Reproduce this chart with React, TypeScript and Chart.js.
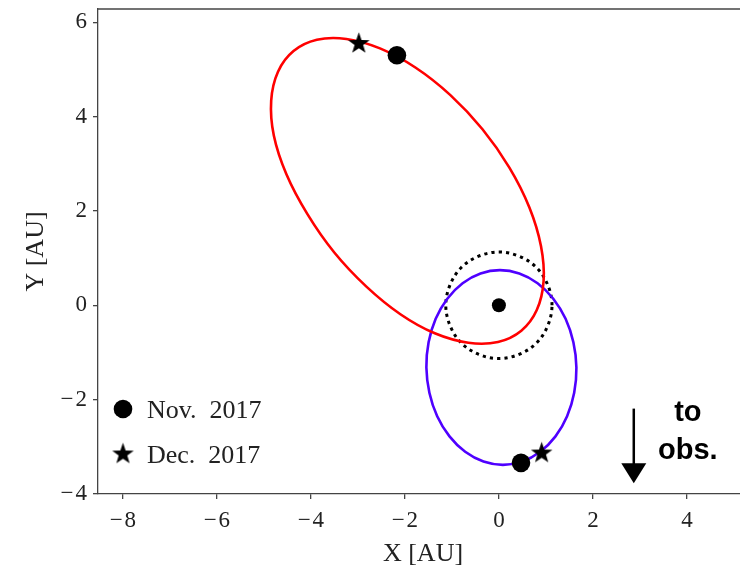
import React, { useEffect, useRef } from 'react';
import { Chart, registerables } from 'chart.js';
Chart.register(...registerables);

// ---- data (AU) ----
const redOrbitX = [0.477, 0.806, 0.951, 0.896, 0.649, 0.223, -0.349, -1.032, -1.777, -2.530, -3.245, -3.874, -4.370, -4.700, -4.845, -4.789, -4.521, -4.074, -3.502, -2.819, -2.096, -1.364, -0.649, -0.019];
const redOrbitY = [-0.538, -0.100, 0.513, 1.253, 2.074, 2.919, 3.732, 4.455, 5.040, 5.445, 5.645, 5.628, 5.389, 4.951, 4.338, 3.598, 2.777, 1.932, 1.119, 0.396, -0.189, -0.594, -0.794, -0.777];

const blueOrbitX = [1.649, 1.602, 1.451, 1.204, 0.879, 0.498, 0.085, -0.328, -0.717, -1.051, -1.313, -1.479, -1.543, -1.496, -1.345, -1.098, -0.772, -0.391, 0.021, 0.434, 0.823, 1.157, 1.419, 1.585];
const blueOrbitY = [-1.319, -1.853, -2.351, -2.779, -3.106, -3.313, -3.383, -3.313, -3.106, -2.779, -2.351, -1.853, -1.319, -0.785, -0.287, 0.140, 0.468, 0.674, 0.745, 0.674, 0.468, 0.140, -0.287, -0.785];

const earthOrbitX = [1.13, 1.04, 0.80, 0.43, 0, -0.43, -0.80, -1.04, -1.13, -1.04, -0.80, -0.43, 0, 0.43, 0.80, 1.04];
const earthOrbitY = [0, 0.43, 0.80, 1.04, 1.13, 1.04, 0.80, 0.43, 0, -0.43, -0.80, -1.04, -1.13, -1.04, -0.80, -0.43];

const novX = [-2.17, 0.47];
const novY = [5.30, -3.34];
const decX = [-2.98, 0.91];
const decY = [5.57, -3.11];
const sunX = [0];
const sunY = [0];

const xTicks = [-8, -6, -4, -2, 0, 2, 4];
const yTicks = [-4, -2, 0, 2, 4, 6];
const xMin = -8.53;
const xMax = 5.13;
const yMin = -4;
const yMax = 6.28;

const xTitle = 'X [AU]';
const yTitle = 'Y [AU]';
const legendLabels = ['Nov.  2017', 'Dec.  2017'];
const arrowX = [2.87, 2.87];
const arrowY = [-2.19, -3.77];
const obsLines = ['to', 'obs.'];
const obsX = 4.02;
const obsY = [-2.28, -3.09];

const SERIF = '"Liberation Serif", "DejaVu Serif", serif';
const SANS = '"Liberation Sans", Arial, sans-serif';

function pts(xs: number[], ys: number[]) {
  return xs.map((x, i) => ({ x, y: ys[i] }));
}
// closed curve: extra neighbour at both ends, whose segments are hidden
function closedLoop(xs: number[], ys: number[]) {
  const p = pts(xs, ys);
  return [p[p.length - 1], ...p, p[0], p[1]];
}
function loopSegment(n: number) {
  return {
    borderColor: (ctx: any) => (ctx.p0DataIndex === 0 || ctx.p1DataIndex === n + 2 ? 'rgba(0,0,0,0)' : undefined),
  };
}
function fmt(v: number) {
  return v < 0 ? '\u2212\u200A' + Math.abs(v) : String(v);
}

function makeStar(R: number) {
  const size = Math.ceil(R * 2 + 4);
  const c = document.createElement('canvas');
  c.width = size;
  c.height = size;
  const g = c.getContext('2d')!;
  const cx = size / 2;
  const cy = size / 2 + R * 0.1;
  const r = R * 0.4;
  g.fillStyle = '#000';
  g.beginPath();
  for (let k = 0; k < 10; k++) {
    const rr = k % 2 === 0 ? R : r;
    const a = -Math.PI / 2 + (k * Math.PI) / 5;
    const px = cx + rr * Math.cos(a);
    const py = cy + rr * Math.sin(a);
    if (k === 0) g.moveTo(px, py);
    else g.lineTo(px, py);
  }
  g.closePath();
  g.fill();
  return c;
}

export default function App() {
  const ref = useRef<HTMLCanvasElement>(null);
  useEffect(() => {
    const star = makeStar(11.3);
    const overlay = {
      id: 'overlay',
      afterDraw(chart: any) {
        const ctx = chart.ctx;
        const { left, right, top, bottom } = chart.chartArea;
        const xs = chart.scales.x;
        const ys = chart.scales.y;
        ctx.save();
        // top spine
        ctx.strokeStyle = '#444';
        ctx.lineWidth = 1.3;
        ctx.beginPath();
        ctx.moveTo(left - 0.6, top);
        ctx.lineTo(right, top);
        ctx.stroke();
        // axis titles
        ctx.fillStyle = '#222';
        ctx.font = `26px ${SERIF}`;
        ctx.textAlign = 'center';
        ctx.textBaseline = 'alphabetic';
        ctx.fillText(xTitle, (left + right) / 2 + 4, 561);
        ctx.save();
        ctx.translate(43, (top + bottom) / 2);
        ctx.rotate(-Math.PI / 2);
        ctx.fillText(yTitle, 0, 0);
        ctx.restore();
        // legend
        const lx = left + 25;
        ctx.fillStyle = '#000';
        ctx.beginPath();
        ctx.arc(lx, bottom - 85, 9.3, 0, Math.PI * 2);
        ctx.fill();
        ctx.drawImage(star, lx - star.width / 2, bottom - 41 - star.height / 2);
        ctx.fillStyle = '#222';
        ctx.textAlign = 'left';
        ctx.font = `26px ${SERIF}`;
        ctx.fillText(legendLabels[0], left + 49, bottom - 76);
        ctx.fillText(legendLabels[1], left + 49, bottom - 31);
        // arrow
        const ax = xs.getPixelForValue(arrowX[0]);
        const ay0 = ys.getPixelForValue(arrowY[0]);
        const ay1 = ys.getPixelForValue(arrowY[1]);
        ctx.strokeStyle = '#000';
        ctx.fillStyle = '#000';
        ctx.lineWidth = 2.5;
        ctx.beginPath();
        ctx.moveTo(ax, ay0);
        ctx.lineTo(ax, ay1 - 18);
        ctx.stroke();
        ctx.beginPath();
        ctx.moveTo(ax - 12.5, ay1 - 20);
        ctx.lineTo(ax + 12.5, ay1 - 20);
        ctx.lineTo(ax, ay1);
        ctx.closePath();
        ctx.fill();
        // label
        ctx.font = `bold 29px ${SANS}`;
        ctx.textAlign = 'center';
        ctx.textBaseline = 'middle';
        const ox = xs.getPixelForValue(obsX);
        obsLines.forEach((t, i) => ctx.fillText(t, ox, ys.getPixelForValue(obsY[i])));
        ctx.restore();
      },
    };

    const chart = new Chart(ref.current!, {
      type: 'scatter',
      data: {
        datasets: [
          {
            label: 'sun',
            data: pts(sunX, sunY),
            pointRadius: 7,
            pointBackgroundColor: '#000',
            pointBorderWidth: 0,
            order: 0,
          },
          {
            label: 'nov',
            data: pts(novX, novY),
            pointRadius: 9.3,
            pointBackgroundColor: '#000',
            pointBorderWidth: 0,
            order: 0,
          },
          {
            label: 'dec',
            data: pts(decX, decY),
            pointStyle: star as any,
            pointRadius: 10,
            order: 0,
          },
          {
            label: 'red',
            data: closedLoop(redOrbitX, redOrbitY),
            showLine: true,
            borderColor: '#ff0000',
            borderWidth: 2.6,
            pointRadius: 0,
            tension: 0.36,
            segment: loopSegment(redOrbitX.length),
            order: 2,
          },
          {
            label: 'blue',
            data: closedLoop(blueOrbitX, blueOrbitY),
            showLine: true,
            borderColor: '#4f00ff',
            borderWidth: 2.6,
            pointRadius: 0,
            tension: 0.36,
            segment: loopSegment(blueOrbitX.length),
            order: 2,
          },
          {
            label: 'earth',
            data: closedLoop(earthOrbitX, earthOrbitY),
            showLine: true,
            borderColor: '#000',
            borderWidth: 3,
            borderDash: [3.2, 4.1],
            pointRadius: 0,
            tension: 0.35,
            segment: loopSegment(earthOrbitX.length),
            order: 3,
          },
        ],
      },
      options: {
        animation: false,
        responsive: true,
        maintainAspectRatio: false,
        layout: { autoPadding: false, padding: { top: 9, right: 0, left: 0, bottom: 0 } },
        plugins: { legend: { display: false }, tooltip: { enabled: false } },
        events: [],
        scales: {
          x: {
            type: 'linear',
            min: xMin,
            max: xMax,
            afterBuildTicks: (s: any) => {
              s.ticks = xTicks.map((v) => ({ value: v }));
            },
            afterFit: (s: any) => {
              s.height = 73;
              s.paddingLeft = 0;
              s.paddingRight = 0;
            },
            ticks: {
              callback: (v: any) => fmt(Number(v)),
              font: { family: SERIF, size: 23 },
              color: '#222',
              padding: 8,
              maxRotation: 0,
            },
            grid: { drawOnChartArea: false, drawTicks: true, tickLength: 5, color: '#444', lineWidth: 1.3 },
            border: { display: true, color: '#444', width: 1.3 },
          },
          y: {
            type: 'linear',
            min: yMin,
            max: yMax,
            afterBuildTicks: (s: any) => {
              s.ticks = yTicks.map((v) => ({ value: v }));
            },
            afterFit: (s: any) => {
              s.width = 98;
              s.paddingTop = 0;
              s.paddingBottom = 0;
            },
            ticks: {
              callback: (v: any) => fmt(Number(v)),
              font: { family: SERIF, size: 23 },
              color: '#222',
              padding: 6,
            },
            grid: { drawOnChartArea: false, drawTicks: true, tickLength: 5, color: '#444', lineWidth: 1.3 },
            border: { display: true, color: '#444', width: 1.3 },
          },
        },
      },
      plugins: [overlay],
    });
    return () => chart.destroy();
  }, []);
  return (
    <div style={{ position: 'fixed', left: 0, top: 0, width: 740, height: 567, background: '#fff' }}>
      <canvas ref={ref} />
    </div>
  );
}
